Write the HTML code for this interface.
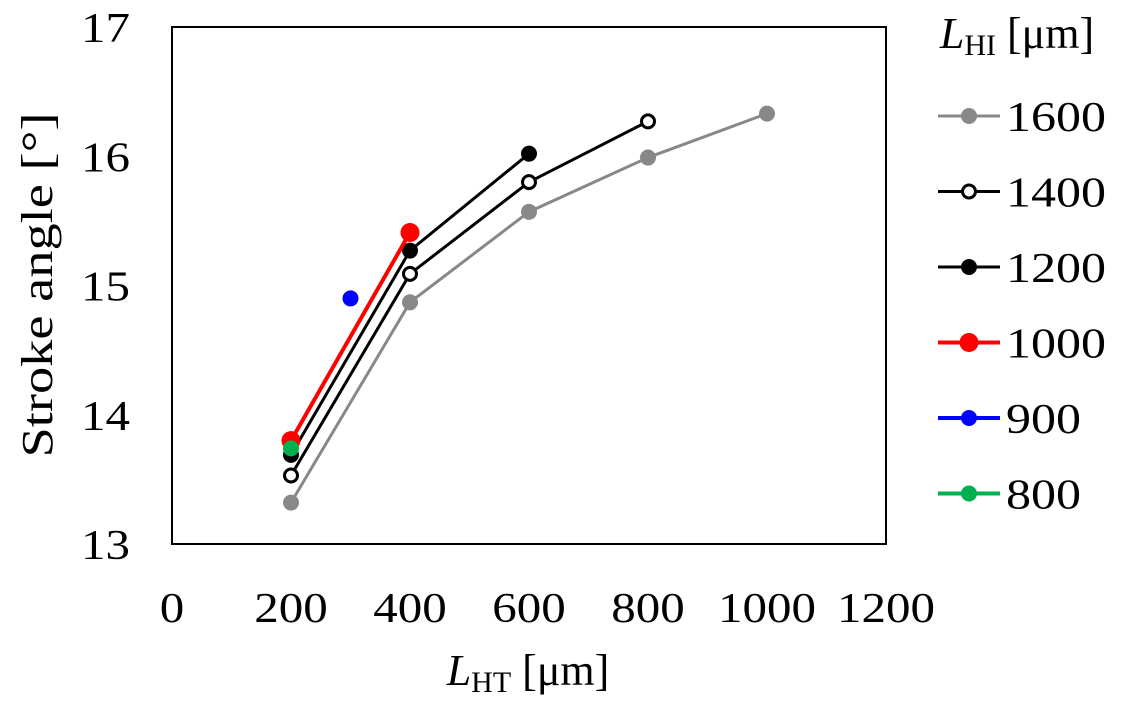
<!DOCTYPE html>
<html><head><meta charset="utf-8"><style>
body{margin:0;background:#fff;}
svg text{font-family:"Liberation Serif",serif;fill:#000;}
</style></head><body>
<svg id="chart" width="1122" height="710" xmlns="http://www.w3.org/2000/svg">
<rect x="172" y="27" width="714" height="517" fill="none" stroke="#000" stroke-width="2"/>
<g id="axes"></g>
<g id="series"></g>
<text x="52" y="285" font-size="44" text-anchor="middle" textLength="345" lengthAdjust="spacingAndGlyphs" transform="rotate(-90 52 285)">Stroke angle [°]</text>
<text x="528" y="685" font-size="44" text-anchor="middle"><tspan font-style="italic">L</tspan><tspan font-size="30" dy="7">HT</tspan><tspan dy="-7"> [μm]</tspan></text>
<text x="1017" y="48" font-size="44" text-anchor="middle"><tspan font-style="italic">L</tspan><tspan font-size="30" dy="7">HI</tspan><tspan dy="-7"> [μm]</tspan></text>
<g id="legend"></g>
</svg>
<script>
const xTicks=[0,200,400,600,800,1000,1200];
const yTicks=[13,14,15,16,17];
const seriesNames=["1600","1400","1200","1000","900","800"];
const xs1600=[200,400,600,800,1000], ys1600=[13.32,14.87,15.57,15.99,16.33];
const xs1400=[200,400,600,800], ys1400=[13.53,15.09,15.80,16.27];
const xs1200=[200,400,600], ys1200=[13.69,15.27,16.02];
const xs1000=[200,400], ys1000=[13.80,15.41];
const xs900=[300], ys900=[14.90];
const xs800=[200], ys800=[13.74];
const NS="http://www.w3.org/2000/svg";
const X=v=>172+v/1200*714, Y=v=>544-(v-13)/4*517;
function mk(t,a,p){const e=document.createElementNS(NS,t);for(const k in a)e.setAttribute(k,a[k]);p.appendChild(e);return e;}
const ax=document.getElementById('axes');
xTicks.forEach(t=>{const s=String(t);const e=mk('text',{x:X(t),y:622,'font-size':42,'text-anchor':'middle',textLength:s.length*24.5,lengthAdjust:'spacingAndGlyphs'},ax);e.textContent=s;

});
yTicks.forEach(t=>{const s=String(t);const e=mk('text',{x:130,y:Y(t)+15,'font-size':42,'text-anchor':'end',textLength:s.length*24.5,lengthAdjust:'spacingAndGlyphs'},ax);e.textContent=s;

});
const styles=[
 {c:"#888",fill:"#888",r:8,w:3,xs:xs1600,ys:ys1600},
 {c:"#000",fill:"#fff",r:6.5,w:3,xs:xs1400,ys:ys1400},
 {c:"#000",fill:"#000",r:8,w:3,xs:xs1200,ys:ys1200},
 {c:"#f00",fill:"#f00",r:9.5,w:4,xs:xs1000,ys:ys1000},
 {c:"#00f",fill:"#00f",r:8,w:4,xs:xs900,ys:ys900},
 {c:"#00b050",fill:"#00b050",r:8,w:4,xs:xs800,ys:ys800}];
const sg=document.getElementById('series');
styles.forEach((s,i)=>{
 const g=mk('g',{},sg);
 
 
 if(s.xs.length>1){const l=mk('polyline',{points:s.xs.map((x,j)=>X(x)+','+Y(s.ys[j])).join(' '),fill:'none',stroke:s.c,'stroke-width':s.w},g);
  
  }
 s.xs.forEach((x,j)=>{const c=mk('circle',{cx:X(x),cy:Y(s.ys[j]),r:s.r,fill:s.fill,stroke:s.c,'stroke-width':s.fill=="#fff"?3:0},g);
  
  });
});
const lg=document.getElementById('legend');
styles.forEach((s,i)=>{
 const y=116+i*75.5;
 const g=mk('g',{},lg);
 
 
 mk('line',{x1:938,y1:y,x2:1000,y2:y,stroke:s.c,'stroke-width':s.w},g);
 mk('circle',{cx:969,cy:y,r:s.r,fill:s.fill,stroke:s.c,'stroke-width':s.fill=="#fff"?3:0},g);
 const n=seriesNames[i];
 const t=mk('text',{x:1006,y:y+15,'font-size':42,textLength:n.length*25,lengthAdjust:'spacingAndGlyphs'},g);t.textContent=n;
});
</script>
</body></html>
